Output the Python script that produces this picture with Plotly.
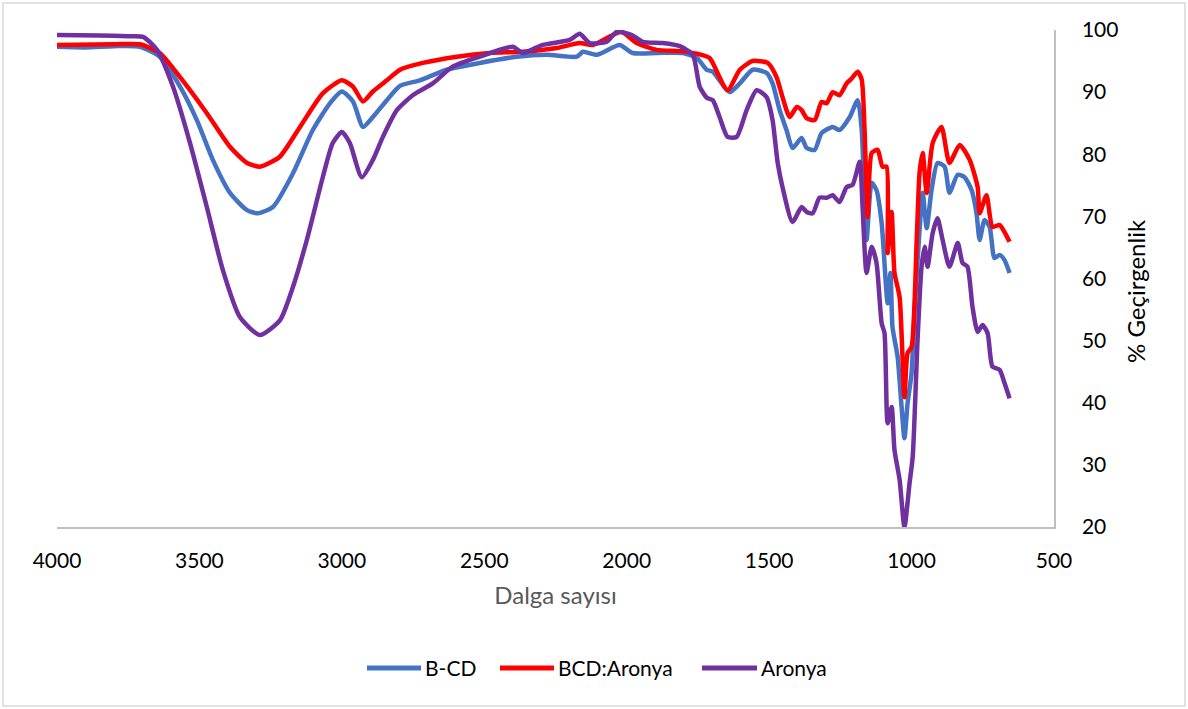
import plotly.graph_objects as go

# ---- data ----
bcd_x = [4000, 3900, 3800, 3709, 3639, 3568, 3509, 3453, 3393, 3333, 3295, 3242, 3172, 3102, 3042, 3000,
         2961, 2926, 2891, 2842, 2796, 2726, 2632, 2516, 2386, 2281, 2175, 2154, 2105, 2025, 1979, 1895,
         1803, 1754, 1719, 1698, 1639, 1603, 1558, 1509, 1488, 1463, 1439, 1418, 1386, 1368, 1340, 1316,
         1277, 1253, 1217, 1189, 1175, 1158, 1140, 1123, 1105, 1084, 1074, 1067, 1049, 1035, 1025, 1014,
         1000, 989, 972, 961, 947, 930, 909, 884, 867, 838, 814, 789, 772, 761, 744, 726, 709, 691, 674, 656]
bcd_y = [97.3, 97.2, 97.4, 97.3, 95.7, 90.9, 85.5, 79.1, 73.8, 71.0, 70.5, 71.5, 76.9, 83.9, 88.2, 90.1,
         88.5, 84.4, 86.0, 88.7, 91.0, 91.9, 93.6, 94.7, 95.7, 96.0, 95.7, 96.5, 96.0, 97.6, 96.3, 96.3,
         96.3, 95.5, 93.6, 93.3, 90.0, 91.4, 93.6, 93.1, 91.4, 87.1, 83.9, 81.0, 82.6, 81.0, 80.7, 83.4,
         84.4, 83.9, 86.0, 88.7, 83.9, 66.2, 75.4, 74.2, 68.9, 56.0, 60.9, 52.2, 47.4, 39.3, 34.3, 39.9,
         44.8, 55.4, 67.8, 73.8, 68.1, 74.2, 78.6, 78.0, 73.8, 76.7, 76.3, 74.2, 70.5, 66.2, 69.4, 68.3,
         63.3, 63.8, 63.0, 60.9]

mix_x = [4000, 3800, 3709, 3639, 3568, 3474, 3393, 3333, 3288, 3218, 3147, 3067, 3000, 2961, 2926, 2891,
         2842, 2796, 2716, 2596, 2481, 2365, 2246, 2165, 2119, 2049, 2018, 1965, 1895, 1814, 1754, 1709,
         1698, 1646, 1603, 1558, 1505, 1474, 1453, 1428, 1403, 1386, 1368, 1340, 1316, 1298, 1277, 1253,
         1228, 1210, 1189, 1175, 1165, 1154, 1140, 1119, 1102, 1088, 1084, 1070, 1060, 1042, 1025, 1014,
         1000, 982, 972, 961, 947, 926, 895, 867, 831, 796, 768, 761, 737, 716, 691, 656]
mix_y = [97.6, 97.7, 97.7, 96.3, 92.4, 86.6, 81.2, 78.6, 78.0, 79.6, 84.4, 89.8, 91.9, 90.9, 88.5, 90.1,
         91.9, 93.6, 94.7, 95.7, 96.3, 96.5, 97.1, 97.9, 97.6, 99.2, 99.7, 97.9, 96.8, 96.6, 96.2, 95.5,
         94.7, 90.3, 93.6, 95.0, 94.7, 92.4, 89.2, 86.0, 87.6, 87.1, 85.8, 85.5, 88.4, 88.2, 90.0, 89.5,
         91.4, 92.2, 93.3, 92.0, 83.9, 69.9, 80.2, 80.7, 78.0, 78.0, 64.1, 70.7, 60.9, 57.0, 40.9, 48.0,
         49.0, 66.2, 77.0, 80.2, 73.8, 81.8, 84.4, 78.6, 81.5, 79.1, 74.7, 70.5, 73.4, 68.3, 68.6, 65.9]

aro_x = [4000, 3850, 3750, 3698, 3649, 3593, 3533, 3474, 3418, 3358, 3288, 3217, 3172, 3123, 3067, 3032,
         3000, 2972, 2930, 2891, 2856, 2807, 2751, 2681, 2611, 2516, 2400, 2365, 2295, 2200, 2165, 2130,
         2070, 2035, 1982, 1944, 1874, 1814, 1768, 1744, 1719, 1698, 1674, 1646, 1614, 1579, 1544, 1509,
         1488, 1470, 1453, 1418, 1386, 1368, 1347, 1323, 1298, 1277, 1253, 1228, 1207, 1182, 1172, 1158,
         1140, 1123, 1105, 1095, 1084, 1070, 1060, 1042, 1025, 1007, 996, 979, 965, 954, 944, 926,
         909, 891, 867, 838, 821, 804, 786, 768, 751, 733, 716, 691, 674, 656]
aro_y = [99.2, 99.1, 99.0, 98.9, 96.8, 90.9, 81.8, 71.5, 61.4, 53.8, 50.9, 53.3, 58.6, 66.2, 76.3, 81.8,
         83.6, 81.8, 76.3, 79.1, 82.8, 87.1, 89.5, 91.4, 94.1, 95.7, 97.3, 96.3, 97.6, 98.4, 99.4, 97.9,
         98.1, 99.7, 99.2, 98.1, 97.9, 97.4, 96.0, 90.9, 89.1, 88.7, 86.0, 82.8, 82.8, 87.1, 90.3, 89.2,
         85.5, 78.6, 74.7, 69.1, 71.5, 70.7, 70.5, 73.0, 73.0, 73.4, 72.3, 74.7, 75.1, 78.8, 71.5, 60.9,
         65.1, 62.5, 52.8, 51.2, 36.7, 39.3, 32.4, 27.6, 20.0, 27.1, 31.3, 50.1, 61.9, 65.1, 61.9, 67.3,
         69.7, 66.2, 61.9, 65.7, 62.5, 61.9, 55.4, 51.4, 52.5, 51.2, 45.8, 45.3, 43.2, 40.7]

series_names = ["B-CD", "BCD:Aronya", "Aronya"]
series_colors = ["#4472C4", "#FF0000", "#7030A0"]

x_ticks = [4000, 3500, 3000, 2500, 2000, 1500, 1000, 500]
y_ticks = [20, 30, 40, 50, 60, 70, 80, 90, 100]

FONT = "Lato, Open Sans, sans-serif"

fig = go.Figure()
for xs, ys, nm, col in zip([bcd_x, mix_x, aro_x], [bcd_y, mix_y, aro_y], series_names, series_colors):
    fig.add_trace(go.Scatter(x=xs, y=ys, mode="lines", name=nm, showlegend=False,
                             line=dict(color=col, width=4.5, shape="spline", smoothing=0.6)))

# manual legend (line sample + label), placed in paper coordinates below the plot
legend_line_x = [(0.3109, 0.3651), (0.4443, 0.4985), (0.6469, 0.7021)]
legend_y = -0.2837
shapes = [dict(type="rect", xref="paper", yref="paper",
               x0=-0.0542, x1=1.1314, y0=-0.3602, y1=1.0543,
               line=dict(color="#D9D9D9", width=1.5), fillcolor="rgba(0,0,0,0)", layer="below")]
annotations = []
for (lx0, lx1), nm, col in zip(legend_line_x, series_names, series_colors):
    shapes.append(dict(type="line", xref="paper", yref="paper", x0=lx0, x1=lx1,
                       y0=legend_y, y1=legend_y, line=dict(color=col, width=5)))
    annotations.append(dict(xref="paper", yref="paper", x=lx1 + 0.002, y=legend_y,
                            xanchor="left", yanchor="middle", text=nm, showarrow=False,
                            font=dict(size=21, color="black", family=FONT)))

# y-axis title as rotated text to the right of the tick labels
annotations.append(dict(xref="paper", yref="paper", x=1.0812, y=0.4748, text="% Geçirgenlik",
                        textangle=-90, showarrow=False, xanchor="center", yanchor="middle",
                        font=dict(size=24, color="black", family=FONT)))

fig.update_layout(
    width=1188, height=709,
    margin=dict(l=57, r=134, t=30, b=182),
    paper_bgcolor="white", plot_bgcolor="white",
    font=dict(family=FONT, size=21, color="black"),
    showlegend=False,
    xaxis=dict(range=[4000, 500], tickvals=x_ticks, ticktext=[str(v) for v in x_ticks],
               showline=True, linecolor="#BFBFBF", linewidth=1.5, mirror=False,
               showgrid=False, zeroline=False, ticks="", ticklabelstandoff=14,
               tickfont=dict(size=21, color="black"),
               title=dict(text="Dalga sayısı", font=dict(size=24, color="#595959"), standoff=16)),
    yaxis=dict(range=[20, 100], tickvals=y_ticks, side="right",
               showline=True, linecolor="#BFBFBF", linewidth=1.5,
               showgrid=False, zeroline=False, ticks="", ticklabelstandoff=22,
               tickfont=dict(size=21, color="black")),
    shapes=shapes,
    annotations=annotations,
)

fig.write_html("out.html")
